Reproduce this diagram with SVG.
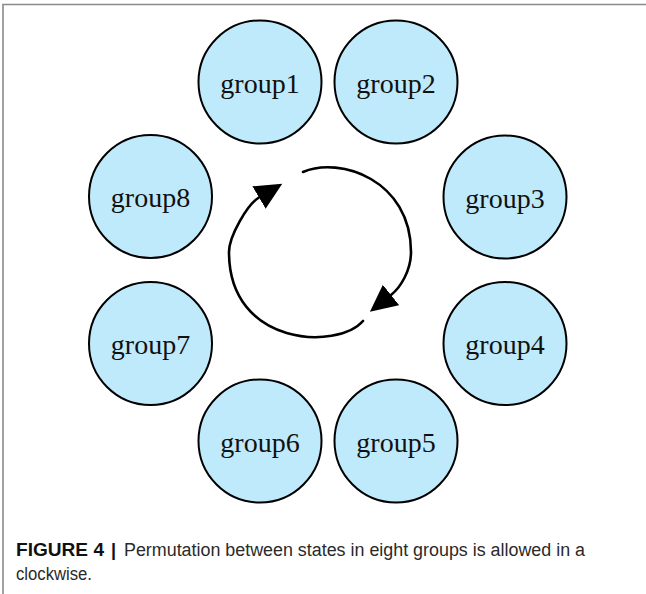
<svg xmlns="http://www.w3.org/2000/svg" width="646" height="594" viewBox="0 0 646 594">
  <style>
    .node circle { fill: #bfeafb; stroke: #000; stroke-width: 2; }
    .node text { font-family: "Liberation Serif", "Times New Roman", serif; font-size: 28px; fill: #111; text-anchor: middle; }
    .cycle path { fill: none; stroke: #000; stroke-width: 2.6; stroke-linecap: round; }
    .frame { stroke: #8a8a8a; stroke-width: 1.6; fill: none; }
    .caption { font-family: "Liberation Sans", Arial, sans-serif; font-size: 18px; fill: #2a2a2a; }
    .caption .fig { font-weight: bold; fill: #111; }
  </style>
  <defs>
    <marker id="head" markerUnits="userSpaceOnUse" markerWidth="30" markerHeight="30" refX="0" refY="13" orient="auto">
      <path d="M0,0 L27,13 L0,26 Z" fill="#000"/>
    </marker>
  </defs>

  <rect width="646" height="594" fill="#fff"/>
  <!-- page frame: top and left rules -->
  <path class="frame" d="M3,594 V4.5 H646"/>

  <!-- ring of groups -->
  <g id="group1" class="node"><circle cx="260" cy="82" r="61.5"/><text x="260" y="92.5">group1</text></g>
  <g id="group2" class="node"><circle cx="396" cy="82" r="61.5"/><text x="396" y="92.5">group2</text></g>
  <g id="group3" class="node"><circle cx="505" cy="197" r="61.5"/><text x="505" y="207.5">group3</text></g>
  <g id="group4" class="node"><circle cx="505" cy="343.5" r="61.5"/><text x="505" y="354">group4</text></g>
  <g id="group5" class="node"><circle cx="396" cy="441" r="61.5"/><text x="396" y="451.5">group5</text></g>
  <g id="group6" class="node"><circle cx="260" cy="441" r="61.5"/><text x="260" y="451.5">group6</text></g>
  <g id="group7" class="node"><circle cx="150.5" cy="343.5" r="61.5"/><text x="150.5" y="354">group7</text></g>
  <g id="group8" class="node"><circle cx="150.5" cy="196.5" r="61.5"/><text x="150.5" y="207">group8</text></g>

  <!-- clockwise cycle arrows (near-elliptical, centre ~320,252) -->
  <g id="connectors" class="cycle">
    <path d="M303,172 C340,156 411,180 411,252 C411,270 401,287 391,295" marker-end="url(#head)"/>
    <path d="M363,321 C338,350 229,347 229,252 C229,236 247.5,204.3 259,197.5" marker-end="url(#head)"/>
  </g>

  <!-- caption -->
  <text class="caption" y="556"><tspan class="fig" x="16" textLength="88" lengthAdjust="spacingAndGlyphs">FIGURE 4</tspan><tspan class="fig" x="111">|</tspan><tspan x="124" textLength="461" lengthAdjust="spacingAndGlyphs">Permutation between states in eight groups is allowed in a</tspan></text>
  <text class="caption" x="16" y="580" textLength="76" lengthAdjust="spacingAndGlyphs">clockwise.</text>
</svg>
